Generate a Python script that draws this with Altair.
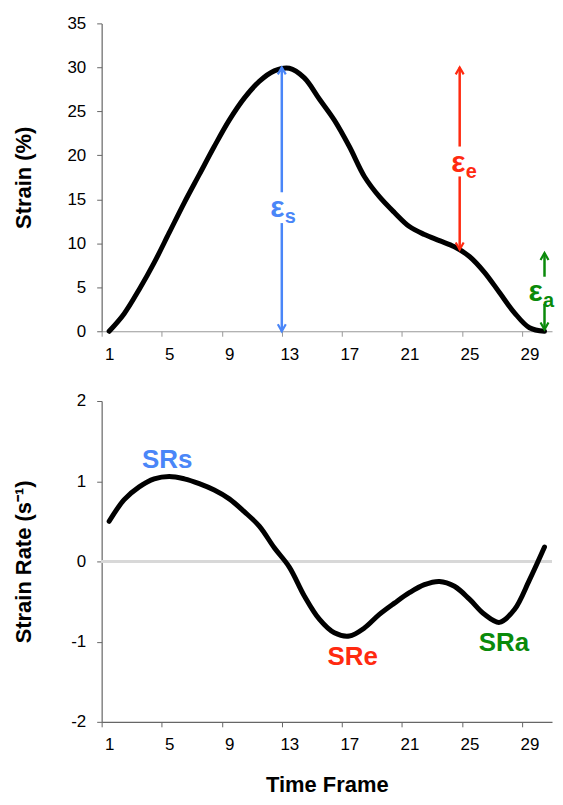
import altair as alt
import pandas as pd

# ---------------- data ----------------
frames = list(range(1, 31))
strain = [0.0, 2.0, 4.75, 7.8, 11.2, 14.6, 17.8, 21.0, 24.0, 26.5,
          28.4, 29.6, 29.9, 28.8, 26.4, 24.0, 21.0, 17.6, 15.3, 13.5,
          11.9, 11.0, 10.3, 9.6, 8.5, 6.7, 4.4, 2.1, 0.4, 0.0]
strain_rate = [0.50, 0.77, 0.93, 1.03, 1.06, 1.03, 0.97, 0.89, 0.78, 0.62,
               0.44, 0.17, -0.07, -0.43, -0.72, -0.89, -0.93, -0.83, -0.66, -0.52,
               -0.39, -0.29, -0.25, -0.31, -0.47, -0.66, -0.76, -0.60, -0.23, 0.18]
tick_labels = [1, 5, 9, 13, 17, 21, 25, 29]
strain_ticks = [0, 5, 10, 15, 20, 25, 30, 35]
rate_ticks = [-2, -1, 0, 1, 2]

# arrows (epsilon annotations)
arrow_name = ["s", "e", "a"]
arrow_x = [12.5, 24.35, 30.0]
arrow_top = [30.0, 30.0, 8.9]
gap_top = [15.8, 21.0, 6.2]
gap_bottom = [12.3, 17.6, 3.1]
arrow_bottom = [0.0, 9.3, 0.2]
arrow_colors = ["#4a86f8", "#ff2a10", "#0a8a0a"]
eps_x = [12.21, 24.26, 29.4]
eps_y = [14.0, 19.1, 4.5]

# strain-rate labels
sr_label = ["SRs", "SRe", "SRa"]
sr_label_x = [4.86, 17.22, 27.3]
sr_label_y = [1.26, -1.19, -1.02]
sr_colors = ["#3d6ff5", "#ff1a1a", "#118a11"]

FONT = "Liberation Sans"
W = 452
x_scale = alt.Scale(domain=[0.5, 30.5], nice=False, zero=False)


def x_axis(title, domain_color):
    return alt.Axis(values=tick_labels, tickOffset=-7.53, labelOffset=7.53,
                    title=title, grid=False, labelPadding=10, titlePadding=22,
                    tickSize=5, labelAngle=0, labelExpr="toString(datum.value)",
                    domainColor=domain_color, tickColor=domain_color)


def y_axis(values, title):
    return alt.Axis(values=values, title=title, grid=False, titleX=-78,
                    titleBaseline="middle", labelPadding=11, tickSize=5,
                    labelExpr="toString(datum.value)")


# ---------------- top chart ----------------
df_top = pd.DataFrame({"frame": frames, "strain": strain})
curve_top = alt.Chart(df_top).mark_line(
    color="black", strokeWidth=5, interpolate="catmull-rom", strokeCap="round"
).encode(
    x=alt.X("frame:Q", scale=x_scale, axis=x_axis(None, "#999")),
    y=alt.Y("strain:Q", scale=alt.Scale(domain=[0, 35], nice=False),
            axis=y_axis(strain_ticks, "Strain (%)")),
)

seg_rows = []
for i, n in enumerate(arrow_name):
    seg_rows.append({"name": n, "x": arrow_x[i], "y1": arrow_top[i], "y2": gap_top[i]})
    seg_rows.append({"name": n, "x": arrow_x[i], "y1": gap_bottom[i], "y2": arrow_bottom[i]})
df_seg = pd.DataFrame(seg_rows)
df_arrow = pd.DataFrame({"name": arrow_name, "x": arrow_x, "top": arrow_top,
                         "bottom": arrow_bottom, "ex": eps_x, "ey": eps_y})
color_enc = alt.Color("name:N", scale=alt.Scale(domain=arrow_name, range=arrow_colors),
                      legend=None)

rules = alt.Chart(df_seg).mark_rule(strokeWidth=2.5).encode(
    x=alt.X("x:Q", scale=x_scale), y=alt.Y("y1:Q"), y2="y2:Q", color=color_enc)
heads_up = alt.Chart(df_arrow).mark_point(
    shape="M-0.57,1L0,0L0.57,1", filled=False, strokeWidth=2.2, size=196, opacity=1
).encode(x=alt.X("x:Q", scale=x_scale), y="top:Q", color=color_enc)
heads_down = alt.Chart(df_arrow).mark_point(
    shape="M-0.57,-1L0,0L0.57,-1", filled=False, strokeWidth=2.2, size=196, opacity=1
).encode(x=alt.X("x:Q", scale=x_scale), y="bottom:Q", color=color_enc)
eps = alt.Chart(df_arrow).mark_text(
    text="ε", font=FONT, fontSize=30, fontWeight="bold", baseline="middle",
    align="center"
).encode(x=alt.X("ex:Q", scale=x_scale), y="ey:Q", color=color_enc)
eps_sub = alt.Chart(df_arrow).mark_text(
    font=FONT, fontSize=20, fontWeight="bold", baseline="middle", align="center",
    dx=13, dy=9
).encode(x=alt.X("ex:Q", scale=x_scale), y="ey:Q", text="name:N", color=color_enc)

top = alt.layer(curve_top, rules, heads_up, heads_down, eps, eps_sub).properties(
    width=W, height=309)

# ---------------- bottom chart ----------------
df_bot = pd.DataFrame({"frame": frames, "rate": strain_rate})
zero = alt.Chart(df_bot).mark_rule(color="#d8d8d8", strokeWidth=1.5).encode(
    y=alt.datum(0))
curve_bot = alt.Chart(df_bot).mark_line(
    color="black", strokeWidth=5, interpolate="catmull-rom", strokeCap="round"
).encode(
    x=alt.X("frame:Q", scale=x_scale, axis=x_axis("Time Frame", "#666")),
    y=alt.Y("rate:Q", scale=alt.Scale(domain=[-2, 2], nice=False),
            axis=y_axis(rate_ticks, "Strain Rate (s⁻¹)")),
)
df_sr = pd.DataFrame({"label": sr_label, "x": sr_label_x, "y": sr_label_y})
sr_text = alt.Chart(df_sr).mark_text(
    font=FONT, fontSize=26, fontWeight="bold", baseline="middle", align="center"
).encode(
    x=alt.X("x:Q", scale=x_scale), y=alt.Y("y:Q"), text="label:N",
    color=alt.Color("label:N", scale=alt.Scale(domain=sr_label, range=sr_colors),
                    legend=None),
)
bottom = alt.layer(zero, curve_bot, sr_text).properties(width=W, height=322)

chart = alt.vconcat(top, bottom, spacing=30).configure(
    padding={"left": 5, "top": 5, "right": 0, "bottom": 0},
).configure_view(stroke=None).configure_axis(
    labelFont=FONT, labelFontSize=17, labelColor="black",
    titleFont=FONT, titleFontSize=22, titleFontWeight="bold", titleColor="black",
    domainColor="#666", tickColor="#666", domainWidth=1.2,
)

chart.save("out.html", embed_options={"renderer": "svg", "actions": False})
